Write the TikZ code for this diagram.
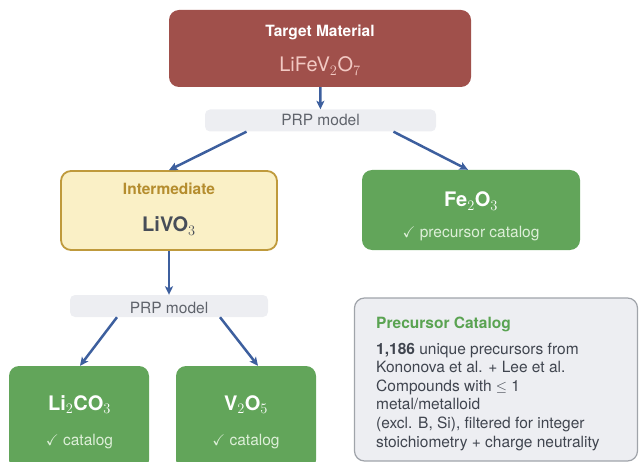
\documentclass[tikz,border=0pt]{standalone}
\usepackage{amssymb}
\usepackage{fontspec}
\setmainfont{TeX Gyre Heros}
\usetikzlibrary{arrows.meta}

\definecolor{tgtred}{HTML}{A0504B}
\definecolor{tgtpink}{HTML}{F2C9C3}
\definecolor{leafgreen}{HTML}{62A55A}
\definecolor{leaftext}{HTML}{DDEFD8}
\definecolor{midfill}{HTML}{FAF0C6}
\definecolor{midline}{HTML}{BF9A3C}
\definecolor{midtitle}{HTML}{B58D2E}
\definecolor{darktext}{HTML}{474D58}
\definecolor{barfill}{HTML}{EDEEF2}
\definecolor{bartext}{HTML}{5F636B}
\definecolor{catline}{HTML}{A0A4AA}
\definecolor{cattitle}{HTML}{5AA352}
\definecolor{flowblue}{HTML}{3D5F9E}

\begin{document}
\begin{tikzpicture}[x=1pt, y=-1pt,
	box/.style={rounded corners=10pt, inner sep=0pt},
	redbox/.style={box, fill=tgtred, minimum width=302pt, minimum height=77pt},
	midbox/.style={box, fill=midfill, draw=midline, line width=1.8pt, minimum width=216pt, minimum height=79pt},
	leafbox/.style={box, fill=leafgreen},
	prpbar/.style={rounded corners=5pt, fill=barfill, inner sep=0pt, minimum height=22pt},
	catbox/.style={box, fill=barfill, draw=catline, line width=1.2pt, minimum width=283pt, minimum height=163pt},
	lbl/.style={anchor=base, inner sep=0pt, font=\fontsize{15.5}{18.6}\selectfont},
	chem/.style={anchor=base, inner sep=0pt, font=\fontsize{20}{24}\selectfont\bfseries},
	flow/.style={draw=flowblue, line width=2.5pt, -{Stealth[length=8.5pt, width=8pt, inset=2pt]}}]
	\clip (0, 0) rectangle (639, 462);
	% boxes
	\node[redbox] (target) at (320, 48.5) {};
	\node[prpbar, minimum width=231pt] (prp1) at (320.5, 120.5) {};
	\node[midbox] (inter) at (169, 210.5) {};
	\node[leafbox, minimum width=218pt, minimum height=80pt] (fe) at (471, 210) {};
	\node[prpbar, minimum width=198pt] (prp2) at (169, 306) {};
	\node[leafbox, minimum width=140pt, minimum height=104pt] (lico) at (79, 418) {};
	\node[leafbox, minimum width=140pt, minimum height=104pt] (vo) at (246, 418) {};
	\node[catbox] (catalog) at (496, 379.5) {};
	% texts
	\node[lbl, text=white, font=\fontsize{15.5}{18.6}\selectfont\bfseries] (tgt-title) at (320, 36.5) {Target Material};
	\node[lbl, text=tgtpink, font=\fontsize{20}{24}\selectfont] (tgt-formula) at (320, 72) {LiFeV$_2$O$_7$};
	\node[lbl, text=bartext] (prp1-text) at (320.5, 126) {PRP model};
	\node[lbl, text=midtitle, font=\fontsize{15.5}{18.6}\selectfont\bfseries] (inter-title) at (169, 195) {Intermediate};
	\node[chem, text=darktext] (inter-formula) at (169, 232) {LiVO$_3$};
	\node[chem, text=white] (fe-formula) at (471, 207) {Fe$_2$O$_3$};
	\node[lbl, text=leaftext] (fe-note) at (471, 237) {$\checkmark$ precursor catalog};
	\node[lbl, text=bartext] (prp2-text) at (169, 313) {PRP model};
	\node[chem, text=white] (lico-formula) at (79.5, 410) {Li$_2$CO$_3$};
	\node[lbl, text=leaftext] (lico-note) at (79.5, 445) {$\checkmark$ catalog};
	\node[chem, text=white] (vo-formula) at (246, 410) {V$_2$O$_5$};
	\node[lbl, text=leaftext] (vo-note) at (246, 445) {$\checkmark$ catalog};
	\node[lbl, anchor=base west, text=cattitle, font=\fontsize{15.5}{18.6}\selectfont\bfseries] (cat-title) at (376, 328.5) {Precursor Catalog};
	\foreach \t [count=\i] in {{\textbf{1,186} unique precursors from}, {Kononova et al. + Lee et al.}, {Compounds with $\leq$ 1}, {metal/metalloid}, {(excl. B, Si), filtered for integer}, {stoichiometry + charge neutrality}}
		\node[lbl, anchor=base west, text=darktext!90!black] (cat-line\i) at (376, {354 + 18.6*(\i - 1)}) {\t};
	% arrows
	\draw[flow] (target) -- (prp1);
	\draw[flow] ([xshift=-74pt]prp1.south) -- (inter.north);
	\draw[flow] ([xshift=73pt]prp1.south) -- ([xshift=-3pt]fe.north);
	\draw[flow] (inter) -- (prp2);
	\draw[flow] ([xshift=-52pt]prp2.south) -- ([xshift=1pt]lico.north);
	\draw[flow] ([xshift=51pt]prp2.south) -- ([xshift=12pt]vo.north);
\end{tikzpicture}
\end{document}
